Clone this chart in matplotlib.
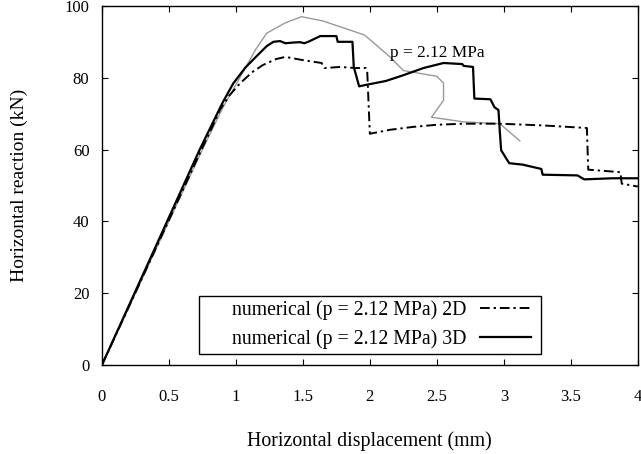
import matplotlib
matplotlib.use("Agg")
import matplotlib.pyplot as plt
from matplotlib.patches import Rectangle

plt.rcParams['font.family'] = ['Liberation Serif', 'DejaVu Serif']

# 3D numerical model (p = 2.12 MPa)
x_3d = [0, 0.73, 0.9, 0.98, 1.07, 1.16, 1.23, 1.28, 1.33, 1.37, 1.43, 1.48, 1.51,
        1.54, 1.63, 1.75, 1.76, 1.87, 1.88, 1.92, 1.97, 2.12, 2.25, 2.40, 2.55,
        2.69, 2.70, 2.77, 2.78, 2.90, 2.93, 2.96, 2.97, 2.98, 3.04, 3.14, 3.28,
        3.29, 3.55, 3.60, 3.81, 4.0]
y_3d = [0, 60, 73, 78.4, 82.8, 86.2, 88.8, 90, 90.2, 89.6, 89.8, 89.9, 89.6,
        90, 91.6, 91.6, 90, 90, 83, 77.6, 78, 79.1, 80.7, 82.7, 84.1,
        83.8, 83.3, 83, 74.2, 74, 71.8, 71, 65, 59.8, 56.2, 55.8, 54.6,
        53, 52.8, 51.7, 52, 52]

# 2D numerical model (p = 2.12 MPa)
x_2d = [0, 0.75, 0.82, 0.88, 0.95, 1.03, 1.12, 1.20, 1.30, 1.37, 1.50, 1.64,
        1.66, 1.78, 1.89, 1.97, 1.98, 2.00, 2.15, 2.32, 2.50, 2.70, 2.97, 3.30,
        3.62, 3.63, 3.87, 3.88, 4.0]
y_2d = [0, 60.5, 66, 71, 75, 78.4, 81.5, 83.5, 85.2, 85.8, 84.9, 84.1,
        82.7, 83, 82.7, 82.7, 82.1, 64.4, 65.5, 66.3, 66.9, 67.2, 67.2, 66.7,
        66, 54.4, 53.7, 50.5, 49.7]

# Experimental curve (p = 2.12 MPa)
x_exp = [0, 0.75, 0.9, 1.06, 1.15, 1.23, 1.37, 1.49, 1.65, 1.96, 2.15, 2.25,
         2.50, 2.55, 2.55, 2.46, 2.70, 2.97, 3.12]
y_exp = [0, 60, 71.5, 82, 88, 92.4, 95.3, 97, 95.8, 91.9, 85.8, 82,
         80.4, 78.5, 73.7, 69, 67.7, 67.2, 62.4]

x_ticks = [0, 0.5, 1, 1.5, 2, 2.5, 3, 3.5, 4]
x_tick_labels = ['0', '0.5', '1', '1.5', '2', '2.5', '3', '3.5', '4']
y_ticks = [0, 20, 40, 60, 80, 100]

fig = plt.figure(figsize=(6.41, 4.54), dpi=100)
ax = fig.add_axes([0.159, 0.196, 0.836, 0.791])

ax.plot(x_exp, y_exp, color='#999999', lw=1.0)
ax.plot(x_2d, y_2d, color='black', lw=1.4, dashes=(5, 2, 1.2, 2),
        label='numerical (p = 2.12 MPa) 2D')
ax.plot(x_3d, y_3d, color='black', lw=1.6, label='numerical (p = 2.12 MPa) 3D')

ax.text(2.15, 86.9, 'p = 2.12 MPa', fontsize=12.4, va='center', ha='left')

ax.set_xlim(0, 4)
ax.set_ylim(0, 100)
ax.set_xticks(x_ticks)
ax.set_xticklabels(x_tick_labels)
ax.set_yticks(y_ticks)
ax.tick_params(direction='in', length=4, width=0.8, top=True, right=True,
               labelsize=12)
ax.tick_params(axis='x', pad=17)
ax.tick_params(axis='y', pad=9)
for s in ax.spines.values():
    s.set_linewidth(1.0)

ax.set_xlabel('Horizontal displacement (mm)', fontsize=14.3, labelpad=19)
ax.set_ylabel('Horizontal reaction (kN)', fontsize=14, labelpad=26)

# Key box: a framed rectangle with right-aligned entries inside
ax.add_patch(Rectangle((0.181, 0.031), 0.638, 0.161, transform=ax.transAxes,
                       facecolor='white', edgecolor='black', lw=1.0, zorder=4))
leg = ax.legend(loc='lower right', bbox_to_anchor=(0.81, 0.031), fontsize=14.2,
                markerfirst=False, frameon=False, handlelength=2.6,
                handletextpad=0.7, borderpad=0.25, labelspacing=0.45,
                borderaxespad=0)
leg.set_zorder(5)

fig.savefig('out.png', dpi=100)
